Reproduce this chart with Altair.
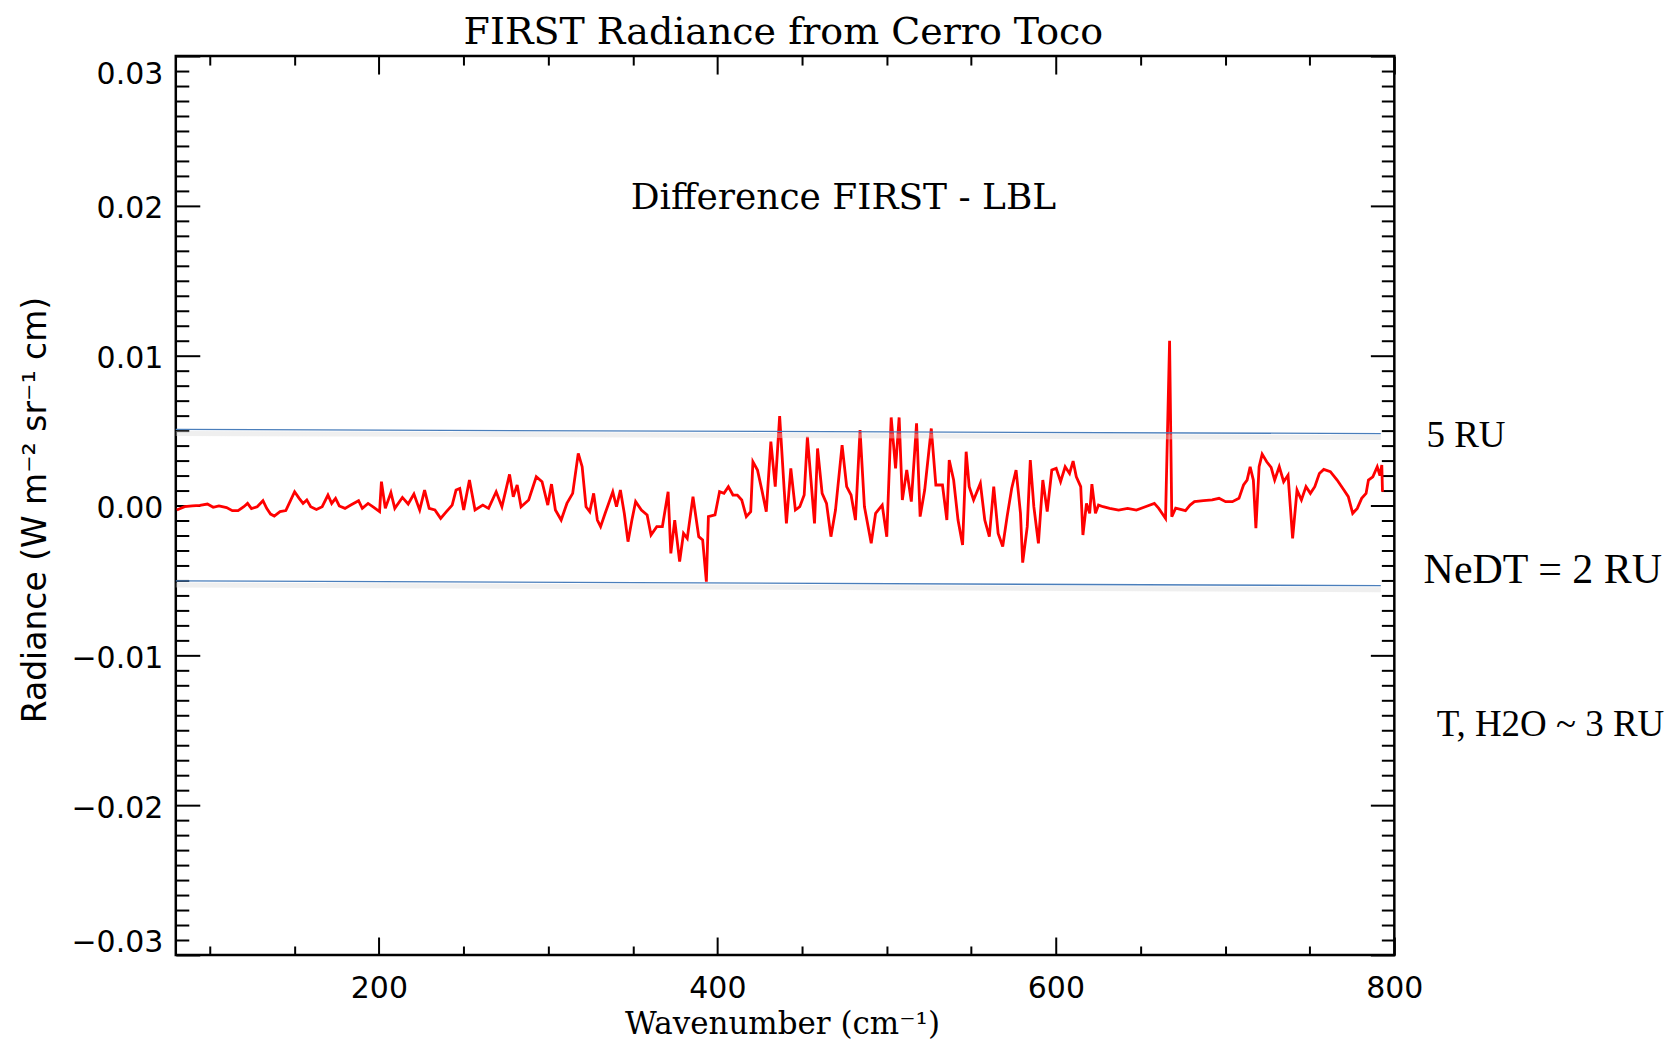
import altair as alt
import pandas as pd

# ---- spectrum: FIRST - LBL radiance difference ----
wavenumber = [
    80.6, 85.2, 89.7, 94.2, 98.7, 102.1, 105.5, 110.0, 113.4, 116.8,
    120.2, 122.4, 124.7, 128.1, 131.5, 133.7, 136.0, 138.2, 141.6, 145.0,
    150.2, 152.9, 155.2, 157.4, 159.7, 163.1, 166.5, 169.9, 172.1, 174.4,
    176.6, 180.0, 183.4, 188.0, 190.2, 193.6, 197.0, 200.4, 201.5, 203.8,
    207.1, 209.4, 213.9, 217.3, 220.7, 224.1, 227.0, 229.7, 233.1, 236.5,
    239.9, 243.3, 245.6, 247.8, 250.1, 253.5, 256.8, 261.4, 264.8, 269.3,
    272.7, 277.2, 279.4, 281.7, 284.0, 288.5, 293.0, 296.4, 299.8, 302.0,
    304.3, 307.7, 311.1, 314.5, 317.8, 320.1, 322.4, 324.6, 326.9, 329.1,
    331.0, 333.7, 338.2, 340.4, 342.7, 345.0, 347.2, 349.5, 351.7, 355.1,
    358.5, 360.8, 364.2, 367.5, 370.9, 372.5, 374.8, 377.7, 380.0, 382.2,
    385.6, 389.0, 391.3, 393.5,
    394.7, 398.6, 401.3, 403.9, 406.5, 409.2, 411.8, 414.4, 417.1, 419.7,
    421.0, 423.7, 426.3, 428.9, 431.6, 434.2, 436.8, 439.5, 440.8, 443.4,
    446.1, 448.7, 451.3, 453.2, 455.3, 457.4, 459.2, 461.9, 464.5, 467.1,
    469.8, 473.7, 476.4, 479.0, 481.6, 484.3, 486.9, 490.9, 493.5, 497.4,
    500.1, 502.7, 505.3, 507.4, 509.3, 511.9, 514.6, 517.7, 519.8, 522.5,
    526.4, 529.1, 533.0, 535.6, 537.0, 539.6, 542.2, 544.9, 547.0, 548.8,
    551.4, 555.4, 558.0, 560.7, 563.3, 565.9, 568.6, 571.2, 573.9, 576.5,
    579.1, 580.4, 583.1, 584.9, 587.0, 589.7, 592.3, 594.9, 597.6, 600.2,
    602.8, 605.5, 608.1, 610.2, 612.1, 614.7, 616.0, 618.1, 620.0, 621.3,
    623.4, 625.2, 627.9, 631.8, 637.1, 642.4, 647.6, 652.9, 658.2, 660.8,
    664.8, 667.2, 668.5, 670.8, 676.6, 679.3, 681.9, 687.2, 692.4, 696.4,
    700.3, 704.3, 708.2, 710.9, 713.0, 714.8, 716.7, 718.2, 720.1, 721.9,
    724.6, 727.2, 729.3, 732.0, 734.6, 737.2, 739.9, 742.5, 745.1, 747.8,
    750.4, 753.0, 755.7, 758.3, 762.2, 766.2, 770.2, 772.8, 775.4, 778.1,
    780.7, 783.3, 784.7, 787.3, 789.9, 791.5, 792.6, 793.0,
]
difference = [
    -0.00030, -0.00008, -0.00003, 0.00001, 0.00010, -0.00012, -0.00003, -0.00014, -0.00034, -0.00034,
    -0.00008, 0.00014, -0.00021, -0.00008, 0.00032, -0.00019, -0.00057, -0.00070, -0.00041, -0.00034,
    0.00092, 0.00048, 0.00014, 0.00037, -0.00008, -0.00026, -0.00008, 0.00070, 0.00014, 0.00048,
    -0.00003, -0.00019, 0.00003, 0.00032, -0.00019, 0.00014, -0.00012, -0.00041, 0.00159, -0.00019,
    0.00086, -0.00019, 0.00054, 0.00010, 0.00077, -0.00030, 0.00103, -0.00019, -0.00030, -0.00086,
    -0.00041, 0.00003, 0.00103, 0.00114, -0.00030, 0.00170, -0.00030, 0.00003, -0.00019, 0.00092,
    -0.00008, 0.00208, 0.00059, 0.00137, -0.00008, 0.00037, 0.00192, 0.00159, 0.00003, 0.00143,
    -0.00030, -0.00097, 0.00014, 0.00081, 0.00348, 0.00259, -0.00008, -0.00041, 0.00081, -0.00097,
    -0.00141, -0.00052, 0.00092, -0.00008, 0.00103, -0.00052, -0.00241, -0.00097, 0.00026, -0.00030,
    -0.00063, -0.00197, -0.00141, -0.00141, 0.00092, -0.00319, -0.00097, -0.00374, -0.00186, -0.00219,
    0.00059, -0.00208, -0.00230, -0.00508,
    -0.00074, -0.00063, 0.00092, 0.00081, 0.00126, 0.00070, 0.00070, 0.00037, -0.00074, -0.00041,
    0.00292, 0.00237, 0.00103, -0.00041, 0.00426, 0.00126, 0.00597, 0.00103, -0.00119, 0.00248,
    -0.00030, -0.00008, 0.00070, 0.00459, 0.00170, -0.00119, 0.00381, 0.00081, 0.00014, -0.00208,
    -0.00030, 0.00403, 0.00126, 0.00070, -0.00097, 0.00503, -0.00008, -0.00252, -0.00052, 0.00003,
    -0.00208, 0.00588, 0.00248, 0.00588, 0.00037, 0.00237, 0.00026, 0.00548, -0.00074, 0.00103,
    0.00514, 0.00137, 0.00137, -0.00097, 0.00303, 0.00170, -0.00097, -0.00263, 0.00359, 0.00126,
    0.00037, 0.00148, -0.00097, -0.00208, 0.00126, -0.00186, -0.00274, -0.00074, 0.00114, 0.00237,
    -0.00052, -0.00381, -0.00141, 0.00303, -0.00008, -0.00252, 0.00170, -0.00041, 0.00237, 0.00248,
    0.00159, 0.00259, 0.00214, 0.00297, 0.00192, 0.00126, -0.00197, 0.00014, -0.00052, 0.00143,
    -0.00052, 0.00003, -0.00008, -0.00019, -0.00030, -0.00019, -0.00030, -0.00008, 0.00014, -0.00019,
    -0.00086, 0.01100, -0.00075, -0.00017, -0.00034, 0.00003, 0.00026, 0.00032, 0.00037, 0.00048,
    0.00026, 0.00026, 0.00048, 0.00137, 0.00170, 0.00259, 0.00170, -0.00152, 0.00259, 0.00343,
    0.00292, 0.00254, 0.00170, 0.00259, 0.00159, 0.00203, -0.00219, 0.00103, 0.00037, 0.00126,
    0.00081, 0.00126, 0.00214, 0.00241, 0.00226, 0.00170, 0.00103, 0.00059, -0.00052, -0.00019,
    0.00048, 0.00081, 0.00170, 0.00192, 0.00259, 0.00200, 0.00270, 0.00092,
]
assert len(wavenumber) == len(difference)

# ---- hand-drawn noise-level lines (two slightly tilted segments) ----
ru_x = [80, 792]
ru_upper = [0.00508, 0.00480]
ru_lower = [-0.00503, -0.00535]

# ---- annotations right of the frame ----
note_text = ["5 RU", "NeDT = 2 RU", "T, H2O ~ 3 RU"]
note_x = [819.0, 817.3, 825.0]
note_y = [0.00463, -0.0043, -0.01463]
note_size = [37, 42, 37]

# ---- title and in-plot caption ----
head_text = ["FIRST Radiance from Cerro Toco", "Difference FIRST - LBL"]
head_x = [439.0, 474.5]
head_y = [0.03081, 0.01977]
head_size = [38, 36]

# ---- ticks ----
x_major = [200, 400, 600, 800]
x_minor = [100, 150, 250, 300, 350, 450, 500, 550, 650, 700, 750]
y_major = [-0.03, -0.02, -0.01, 0.0, 0.01, 0.02, 0.03]
y_minor = [round(-0.03 + 0.001 * i, 3) for i in range(1, 60) if i % 10 != 0]

spec_df = pd.DataFrame({"wn": wavenumber, "diff": difference})
ru_df = pd.DataFrame({
    "bx": ru_x + ru_x,
    "by": ru_upper + ru_lower,
    "band": ["upper", "upper", "lower", "lower"],
})
note_df = pd.DataFrame({"nx": note_x, "ny": note_y, "label": note_text, "fs": note_size})
head_df = pd.DataFrame({"hx": head_x, "hy": head_y, "label": head_text, "fs": head_size})

xs = alt.Scale(domain=[80, 800], nice=False, zero=False)
ys = alt.Scale(domain=[-0.03, 0.03], nice=False, zero=False)


def tick_axis(orient, values, size):
    return alt.Axis(orient=orient, values=values, ticks=True, tickSize=size,
                    tickWidth=2, tickColor="black", labels=False, domain=False,
                    grid=False, offset=-size, title=None)


x_label_axis = alt.Axis(
    orient="bottom", values=x_major, format="d", ticks=False, tickSize=0,
    domain=False, grid=False, labelFont="DejaVu Sans", labelFontSize=30,
    labelColor="black", labelPadding=43, labelBaseline="alphabetic",
    labelFlush=False, title="Wavenumber (cm⁻¹)", titleFont="DejaVu Serif",
    titleFontSize=31, titleFontWeight="normal", titleColor="black",
    titleX=607, titleY=79, titleBaseline="alphabetic",
)
y_label_axis = alt.Axis(
    orient="left", values=y_major, format=".2f", ticks=False, tickSize=0,
    domain=False, grid=False, labelFont="DejaVu Sans", labelFontSize=30,
    labelColor="black", labelPadding=13, labelFlush=True, labelOffset=3,
    title="Radiance (W m⁻² sr⁻¹ cm)", titleFont="DejaVu Sans",
    titleFontSize=33, titleFontWeight="normal", titleColor="black",
    titleX=-140, titleY=454, titleAngle=270, titleBaseline="middle",
    titleAlign="center",
)

red = alt.Chart(spec_df).mark_line(color="#ff0000", strokeWidth=2.8).encode(
    x=alt.X("wn:Q", scale=xs, axis=x_label_axis),
    y=alt.Y("diff:Q", scale=ys, axis=y_label_axis),
)

shadow = alt.Chart(ru_df).mark_line(color="#d8d8d8", strokeWidth=5, opacity=0.4, yOffset=4).encode(
    x=alt.X("bx:Q", scale=xs, axis=tick_axis("bottom", x_minor, 9)),
    y=alt.Y("by:Q", scale=ys, axis=tick_axis("left", y_minor, 13)),
    detail="band:N",
)

blue = alt.Chart(ru_df).mark_line(color="#4a7ebb", strokeWidth=1.3).encode(
    x=alt.X("bx:Q", scale=xs, axis=tick_axis("bottom", x_major, 18)),
    y=alt.Y("by:Q", scale=ys, axis=tick_axis("left", y_major, 24)),
    detail="band:N",
)

notes = alt.Chart(note_df).mark_text(
    align="left", baseline="middle", font="Liberation Serif", color="black"
).encode(
    x=alt.X("nx:Q", scale=xs, axis=tick_axis("top", x_major, 18)),
    y=alt.Y("ny:Q", scale=ys, axis=tick_axis("right", y_major, 24)),
    text="label:N",
    size=alt.Size("fs:Q", scale=None, legend=None),
)

heads = alt.Chart(head_df).mark_text(
    align="center", baseline="alphabetic", font="DejaVu Serif", color="black"
).encode(
    x=alt.X("hx:Q", scale=xs, axis=tick_axis("top", x_minor, 9)),
    y=alt.Y("hy:Q", scale=ys, axis=tick_axis("right", y_minor, 13)),
    text="label:N",
    size=alt.Size("fs:Q", scale=None, legend=None),
)

chart = alt.layer(red, shadow, blue, notes, heads).resolve_axis(
    x="independent", y="independent"
).properties(
    width=1220,
    height=900,
    autosize=alt.AutoSizeParams(type="none"),
    padding={"left": 168, "top": 47.5, "right": 275, "bottom": 87},
    background="white",
).configure_view(stroke="black", strokeWidth=2.5)

chart.save("out.html", embed_options={"renderer": "svg", "actions": False})
